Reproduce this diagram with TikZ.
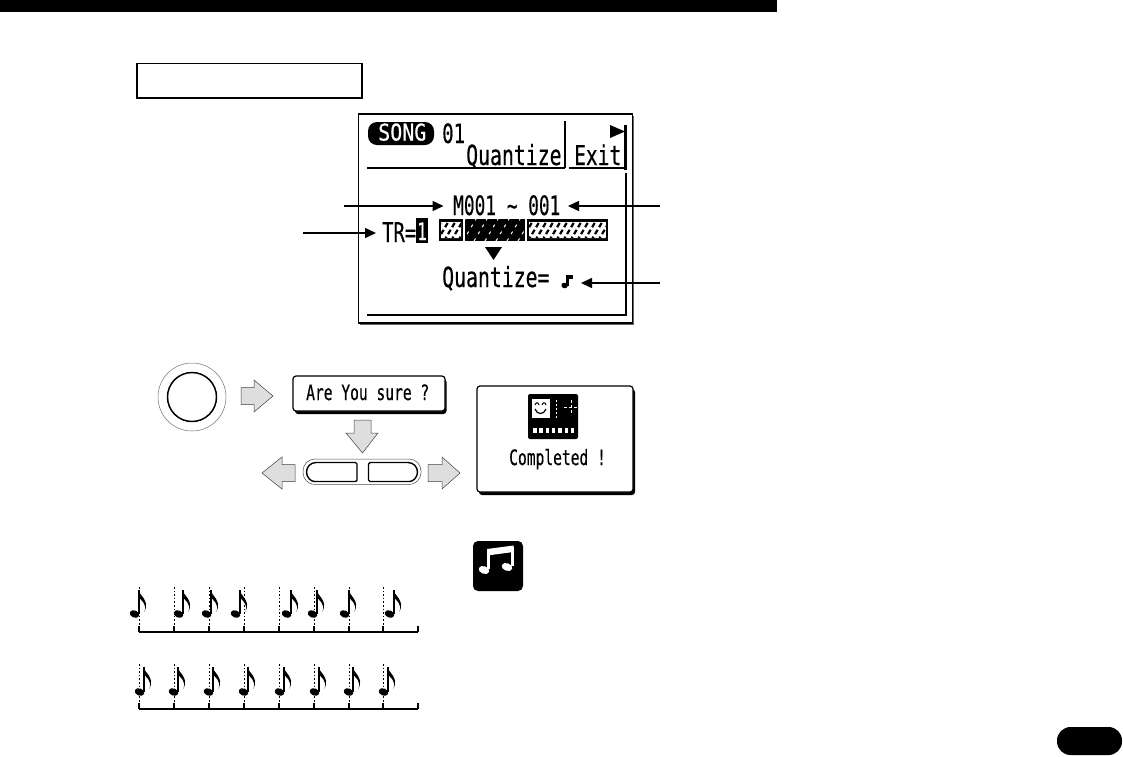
\documentclass[tikz,border=0pt]{standalone}
\usepackage{graphicx}
\usepackage{fontspec}
\newfontfamily\lcdfont[FakeBold=0.5]{DejaVu Sans Mono}
\usetikzlibrary{arrows.meta}
\newcommand{\lcdtxt}[3]{{\fontsize{#1}{#1}\selectfont\lcdfont\scalebox{1}[#2]{#3}}}
\newcommand{\eighthnote}[3]{% stem x, head y, stem top y
  \fill[black,rotate around={-22:(#1-4.5,#2)}] (#1-4.5,#2) ellipse (5 and 3.6);
  \draw[black,line width=1.2] (#1,#2) -- (#1,#3);
  \fill[black] (#1-.5,#3) .. controls (#1+.5,#3+6) and (#1+11,#3+10) .. (#1+5.5,#3+22)
     .. controls (#1+8,#3+13) and (#1+2.5,#3+11) .. (#1-.5,#3+7) -- cycle;
}
\tikzset{
  x=1pt,y=-1pt,
  lcd/.style={inner sep=0pt,anchor=base west,text=black},
  pointer/.style={line width=1.5pt,-{Stealth[length=11pt,width=10pt,inset=0pt]}},
  blockarrow/.style={draw=black!75,line width=.5pt,fill=black!13,line join=miter},
  dialog/.style={draw=black,line width=1.2pt,fill=white,rounded corners=3pt},
  shadowbox/.style={fill=black,rounded corners=3pt},
  tick/.style={line width=1.4pt},
  axisline/.style={line width=1.8pt},
  dotline/.style={line width=.9pt,dash pattern=on 1.6pt off 2pt},
  softkey/.style={draw=black,line width=1.4pt,fill=white}
}
\begin{document}
\begin{tikzpicture}
\path[use as bounding box,fill=white] (0,0) rectangle (1123,756);
% header and page pill
\fill[black] (0,0) rectangle (777,12);
\fill[black,rounded corners=13.5pt] (1057,727) rectangle (1122,755);
\draw[line width=1.2pt] (137,63.5) rectangle (362,98);
% LCD
\draw[line width=1.2pt] (358.5,114) rectangle (632.5,323);
\draw[line width=1pt,black!60] (360,324.5) -- (633.8,324.5) -- (633.8,116);
\draw[line width=2.2pt] (367,168) -- (565,168);
\draw[line width=1.2pt] (565,121) -- (565,168);
\draw[line width=1.4pt] (568.5,168) -- (624,168);
\draw[line width=2.4pt] (625.5,125) -- (625.5,170);
\draw[line width=2pt] (626,173) -- (626,315) -- (367,315);
\fill[black] (610,125) -- (625,131.5) -- (610,138) -- cycle;
\fill[black,rounded corners=9pt] (368,122) rectangle (434,145);
\node[lcd,text=white] (songlabel) at (378,140.5) {\lcdtxt{20}{1.15}{SONG}};
\node[lcd] (songno) at (442,143) {\lcdtxt{19}{1.4}{01}};
\node[lcd] (title) at (466,165) {\lcdtxt{19.8}{1.4}{Quantize}};
\node[lcd] (exit) at (574,165) {\lcdtxt{19.5}{1.4}{Exit}};
\node[lcd] (range) at (453,215) {\lcdtxt{17.8}{1.5}{M001 \char"7E{} 001}};
\node[lcd] (track) at (382,242) {\lcdtxt{18.8}{1.45}{TR=}};
\fill[black] (416,218) rectangle (428,243);
\node[lcd,text=white] (trackno) at (417,240) {\lcdtxt{16}{1.5}{1}};
% track bars
\begin{scope}
\fill[black] (439,219) rectangle (463,241);
\fill[black] (527,219) rectangle (608,241);
\clip (441,222) rectangle (461,238) (529,222) rectangle (606,238);
\fill[white] (441,222) rectangle (461,238) (529,222) rectangle (606,238);
\foreach \i in {0,7,...,182}{
  \draw[black,line width=2.2pt,dash pattern=on 5pt off 3pt] (430+\i,241) -- (443+\i,219);
}
\end{scope}
\begin{scope}
\fill[black] (465,219) rectangle (525,241);
\clip (465,219) rectangle (525,241);
\foreach \i in {0,11,...,66}{
  \draw[white,line width=1pt,dash pattern=on 3pt off 5pt] (452+\i,241) -- (465+\i,219);
}
\end{scope}
\fill[black] (485,247) -- (502,247) -- (493.5,260) -- cycle;
\node[lcd] (quant) at (442,287) {\lcdtxt{19.8}{1.4}{Quantize=}};
\fill[black,rotate around={-20:(564.5,285.5)}] (564.5,285.5) ellipse (3.2 and 2.8);
\fill[black] (566,275) rectangle (568.5,286);
\fill[black] (566,275) -- (573,275) -- (573,279) -- (566,279) -- cycle;
\coordinate (qvalue) at (581,283);
% pointers
\coordinate (rangefrom) at (344,206);
\coordinate (rangeto) at (660,206);
\coordinate (trackfrom) at (303,233);
\coordinate (quantfrom) at (660,283);
\coordinate (rangeL) at (443.5,206);
\coordinate (rangeR) at (568,206);
\coordinate (trackL) at (376,233);
\draw[pointer] (rangefrom) -- (rangeL);
\draw[pointer] (rangeto) -- (rangeR);
\draw[pointer] (trackfrom) -- (trackL);
\draw[pointer] (quantfrom) -- (qvalue);
% button
\node[circle,draw=black!55,line width=.5pt,minimum size=68pt,inner sep=0pt] (btnouter) at (192,397) {};
\node[circle,draw=black,line width=1.5pt,minimum size=49pt,inner sep=0pt] (btninner) at (192,397) {};
% block arrows
\draw[blockarrow] (241,387.5) -- (254,387.5) -- (254,380) -- (273,396) -- (254,412) -- (254,404.5) -- (241,404.5) -- cycle;
\draw[blockarrow] (354,420) -- (371,420) -- (371,433) -- (378,433) -- (362.5,453) -- (346,433) -- (354,433) -- cycle;
\draw[blockarrow] (295,464.5) -- (282,464.5) -- (282,457) -- (262,473) -- (282,489) -- (282,481.5) -- (295,481.5) -- cycle;
\draw[blockarrow] (428,464.5) -- (442,464.5) -- (442,457) -- (460,473) -- (442,489) -- (442,481.5) -- (428,481.5) -- cycle;
% Are you sure
\fill[shadowbox] (295,379) rectangle (446.5,414);
\draw[dialog] (293,376) rectangle (445,411);
\node[lcd] (sure) at (306,400) {\lcdtxt{14.6}{1.45}{Are You sure ?}};
% yes/no key pair
\draw[black!70,line width=.5pt,rounded corners=12pt,fill=white] (303,459) rectangle (421,484.5);
\draw[softkey,rounded corners=1.5pt] (357,462.5) -- (357,481.5) -- (316,481.5) [sharp corners] arc (90:270:9.5) [rounded corners=1.5pt] -- cycle;
\draw[softkey,rounded corners=1.5pt] (368.5,462.5) -- (368.5,481.5) -- (408,481.5) [sharp corners] arc (90:-90:9.5) [rounded corners=1.5pt] -- cycle;
% Completed
\fill[shadowbox] (479,389) rectangle (635,495);
\draw[dialog] (477,386) rectangle (633,492);
\fill[black,rounded corners=2pt] (528,394) rectangle (578,439);
\fill[white] (531.5,399) rectangle (550,418);
\draw[black,line width=1pt] (535,405) .. controls (536,402) and (538,402) .. (539,405) (542,405) .. controls (543,402) and (545,402) .. (546,405);
\draw[black,line width=1.2pt] (535,409) .. controls (537,415) and (544,415) .. (546,409);
\draw[white,line width=1pt,dash pattern=on 2pt off 2pt] (556,400) -- (556,418);
\draw[white,line width=1pt,dash pattern=on 3pt off 2pt] (571,400) -- (571,415) (564,407) -- (578,407);
\foreach \i in {0,...,6}{\fill[white] (533+6.3*\i,428) rectangle (536.5+6.3*\i,433);}
\node[lcd] (done) at (509,465) {\lcdtxt{14.6}{1.45}{Completed !}};
% tip icon
\fill[black,rounded corners=5pt] (473,541) rectangle (523,591);
\fill[white,rotate around={-20:(484,570)}] (484,570) ellipse (5.5 and 3.8);
\fill[white,rotate around={-20:(507,567)}] (507,567) ellipse (5.5 and 3.8);
\fill[white] (487,551) rectangle (490,569);
\fill[white] (510.5,547) rectangle (513.5,566);
\fill[white] (487,549) -- (513.5,545.5) -- (513.5,552) -- (487,555.5) -- cycle;
% timeline upper
\draw[axisline] (139,632) -- (418,632);
\foreach \x in {139,174,209,244,279,314,349,383,418}{\draw[tick] (\x,626) -- (\x,632);}
\foreach \x in {139,174,209,244,279,314,349,383}{\draw[dotline] (\x,587) -- (\x,626);}
\foreach \x in {139,183,211,240,291,317,349,394}{\eighthnote{\x}{614}{590}}
% timeline lower
\draw[axisline] (139,709) -- (418,709);
\foreach \x in {139,174,209,244,279,314,349,383,418}{\draw[tick] (\x,703) -- (\x,709);}
\foreach \x in {139,174,209,244,279,314,349,383}{\draw[dotline] (\x,664) -- (\x,703);}
\foreach \x in {144,178,213,248,284,319,353,388}{\eighthnote{\x}{692}{667}}
\end{tikzpicture}
\end{document}
